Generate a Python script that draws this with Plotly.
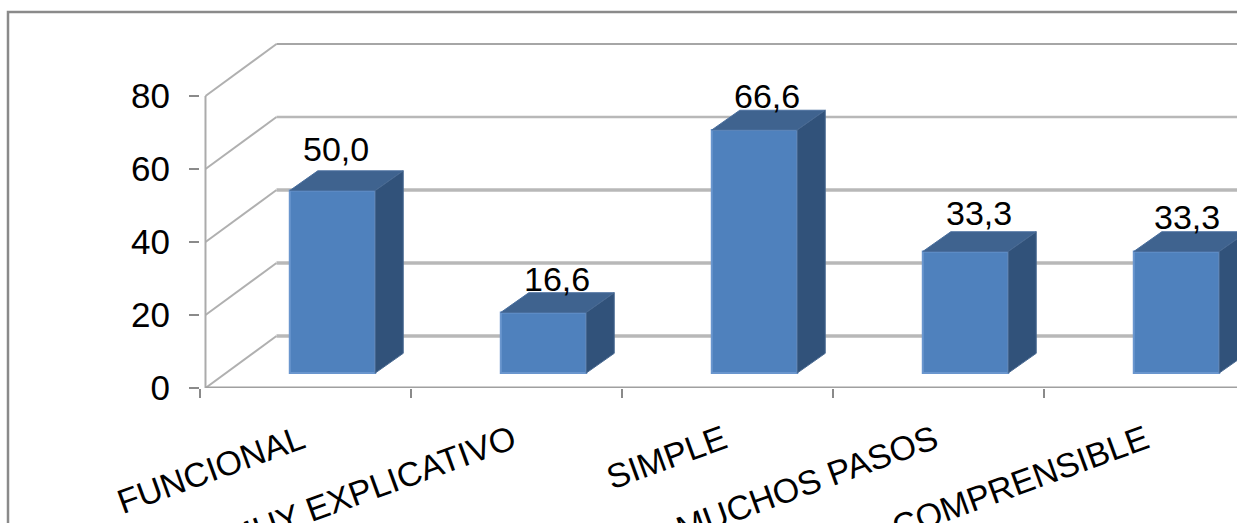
import plotly.graph_objects as go

# Chart data
categories = ["FUNCIONAL", "MUY EXPLICATIVO", "SIMPLE", "MUCHOS PASOS", "COMPRENSIBLE"]
values = [50.0, 16.6, 66.6, 33.3, 33.3]
y_ticks = [0, 20, 40, 60, 80]

# Pseudo-3D projection, in axis units
WALL_X = -0.474        # left edge of the side wall
WALL_DX = 0.3365       # horizontal run of the side wall
WALL_DY = 14.25        # vertical rise of the side wall
BAR_BASE = 4.1         # floor height at the plane of the bars
BAR_W = 0.405          # front face width
BAR_SHIFT = 0.128      # bar offset from the category centre
BAR_DX = 0.1327        # bar depth, horizontal
BAR_DY = 5.4           # bar depth, vertical

# Text offsets of the value labels, in pixels
LABEL_DX = [3.5, 13.5, 12, 13, 10]
LABEL_DY = [42, 33, 34, 38, 34]

FONT = "Liberation Sans, Arial, sans-serif"
x_range = [-0.5, -0.5 + 1037 / 211]
xs = list(range(len(categories)))

fig = go.Figure()

# Front faces
fig.add_trace(go.Bar(
    x=[i + BAR_SHIFT for i in xs], y=values, base=BAR_BASE, width=BAR_W,
    marker=dict(color="#4F81BD", line=dict(color="#6A96CE", width=2)),
    hoverinfo="skip", showlegend=False,
))

# Top and side faces, one polygon per bar
top_x, top_y, side_x, side_y = [], [], [], []
for i, v in zip(xs, values):
    left = i + BAR_SHIFT - BAR_W / 2
    right = i + BAR_SHIFT + BAR_W / 2
    h = BAR_BASE + v
    top_x += [left, right, right + BAR_DX, left + BAR_DX, left, None]
    top_y += [h, h, h + BAR_DY, h + BAR_DY, h, None]
    side_x += [right, right + BAR_DX, right + BAR_DX, right, right, None]
    side_y += [BAR_BASE, BAR_BASE + BAR_DY, h + BAR_DY, h, BAR_BASE, None]

fig.add_trace(go.Scatter(x=top_x, y=top_y, mode="lines", fill="toself",
                         fillcolor="#3F638F", line=dict(color="#4A6F9E", width=1),
                         hoverinfo="skip", showlegend=False))
fig.add_trace(go.Scatter(x=side_x, y=side_y, mode="lines", fill="toself",
                         fillcolor="#31527A", line=dict(color="#4A6A92", width=1),
                         hoverinfo="skip", showlegend=False))

# Carries the boundary tick marks of the category axis
fig.add_trace(go.Scatter(x=[0], y=[0], xaxis="x2", mode="markers",
                         marker=dict(opacity=0), hoverinfo="skip", showlegend=False))

# Walls and floor sit beneath the bars
shapes = [dict(type="rect", xref="paper", yref="paper",
               x0=(8 - 200) / 1037, x1=1.2, y0=-1, y1=(388 - 12) / 365,
               line=dict(color="#8A8A8A", width=2.5), layer="below")]
for t in y_ticks:
    width = 2 if t == 80 else 2.5 if t == 60 else 3.5
    color = "#A6A6A6" if t == 80 else "#B8B8B8"
    shapes.append(dict(type="line", xref="x", yref="y", layer="below",
                       x0=WALL_X, y0=t, x1=WALL_X + WALL_DX, y1=t + WALL_DY,
                       line=dict(color="#B0B0B0", width=2)))
    shapes.append(dict(type="line", xref="x", yref="y", layer="below",
                       x0=WALL_X + WALL_DX, y0=t + WALL_DY, x1=x_range[1], y1=t + WALL_DY,
                       line=dict(color=color, width=width)))
shapes.append(dict(type="line", xref="x", yref="y", layer="below",
                   x0=WALL_X, y0=y_ticks[0], x1=WALL_X, y1=y_ticks[-1],
                   line=dict(color="#ABABAB", width=2)))
shapes.append(dict(type="line", xref="x", yref="y", layer="below",
                   x0=WALL_X, y0=0, x1=x_range[1], y1=0,
                   line=dict(color="#A0A0A0", width=3)))

# Value labels above each bar
annotations = [
    dict(x=i + BAR_SHIFT, y=BAR_BASE + v, text=f"{v:.1f}".replace(".", ","),
         showarrow=False, xshift=dx, yshift=dy, xanchor="center", yanchor="middle",
         font=dict(family=FONT, size=34, color="black"))
    for i, v, dx, dy in zip(xs, values, LABEL_DX, LABEL_DY)
]

fig.update_layout(
    width=1237, height=523,
    margin=dict(l=200, r=0, t=23, b=135),
    paper_bgcolor="white", plot_bgcolor="white",
    showlegend=False, shapes=shapes, annotations=annotations,
    xaxis=dict(range=x_range, showgrid=False, zeroline=False, showline=False,
               automargin=False,
               tickmode="array", tickvals=xs, ticktext=categories, ticks="",
               tickangle=-20, ticklabelstandoff=25, ticklabelshift=-4,
               tickfont=dict(family=FONT, size=34, color="black")),
    xaxis2=dict(range=x_range, overlaying="x", anchor="y", side="bottom",
                automargin=False,
                showgrid=False, zeroline=False, showline=False,
                tickmode="array", tickvals=[i - 0.5 for i in range(len(categories) + 1)],
                showticklabels=False, ticks="outside", ticklen=9, tickwidth=2,
                tickcolor="#8A8A8A"),
    yaxis=dict(range=[0, 100], showgrid=False, zeroline=False, showline=False,
               automargin=False,
               tickmode="array", tickvals=y_ticks, ticks="outside", ticklen=10,
               tickwidth=2, tickcolor="#8A8A8A", ticklabelstandoff=12,
               tickfont=dict(family=FONT, size=35, color="black")),
)

fig.write_html("out.html")
